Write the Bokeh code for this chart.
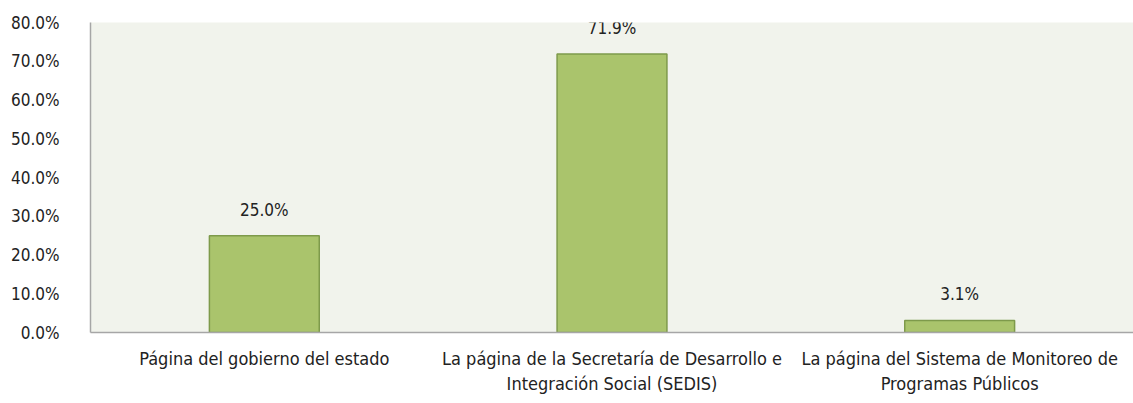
from bokeh.plotting import figure
from bokeh.models import ColumnDataSource, NumeralTickFormatter, FixedTicker, Range1d, LabelSet
from bokeh.core.properties import value
from bokeh.embed import file_html
from bokeh.resources import INLINE

categories = [
    "Página del gobierno del estado",
    "La página de la Secretaría de Desarrollo e\nIntegración Social (SEDIS)",
    "La página del Sistema de Monitoreo de\nProgramas Públicos",
]
values = [0.25, 0.719, 0.031]
value_labels = ["25.0%", "71.9%", "3.1%"]
y_ticks = [0.0, 0.1, 0.2, 0.3, 0.4, 0.5, 0.6, 0.7, 0.8]

FONT = "DejaVu Sans Condensed"

src = ColumnDataSource(dict(x=categories, top=values, lab=value_labels))

p = figure(x_range=categories, y_range=Range1d(0, 0.8), width=1133, height=396,
           output_backend="svg", toolbar_location=None,
           min_border_left=90, min_border_right=0, min_border_top=22, min_border_bottom=58)
p.background_fill_color = "#F1F3EC"
p.border_fill_color = "white"
p.outline_line_color = None
p.grid.grid_line_color = None

p.vbar(x="x", top="top", width=0.316, source=src,
       fill_color="#AAC46C", line_color="#7E9A4B", line_width=1.5)
labels = LabelSet(x="x", y="top", text="lab", source=src, text_align="center",
                  text_baseline="bottom", y_offset=16, text_font=value(FONT),
                  text_font_size="17px", text_color="#222222", level="overlay")
p.add_layout(labels)

p.yaxis.ticker = FixedTicker(ticks=y_ticks)
p.yaxis.formatter = NumeralTickFormatter(format="0.0%")
for ax in (p.xaxis[0], p.yaxis[0]):
    ax.major_tick_line_color = None
    ax.minor_tick_line_color = None
    ax.axis_line_color = "#A6A6A6"
    ax.axis_line_width = 1.5
    ax.major_label_text_font = FONT
    ax.major_label_text_font_size = "17px"
    ax.major_label_text_color = "#222222"
p.xaxis.major_label_text_font_size = "18px"
p.yaxis.major_label_standoff = 25
p.xaxis.major_label_standoff = 9

open("out.html", "w").write(file_html(p, INLINE))
